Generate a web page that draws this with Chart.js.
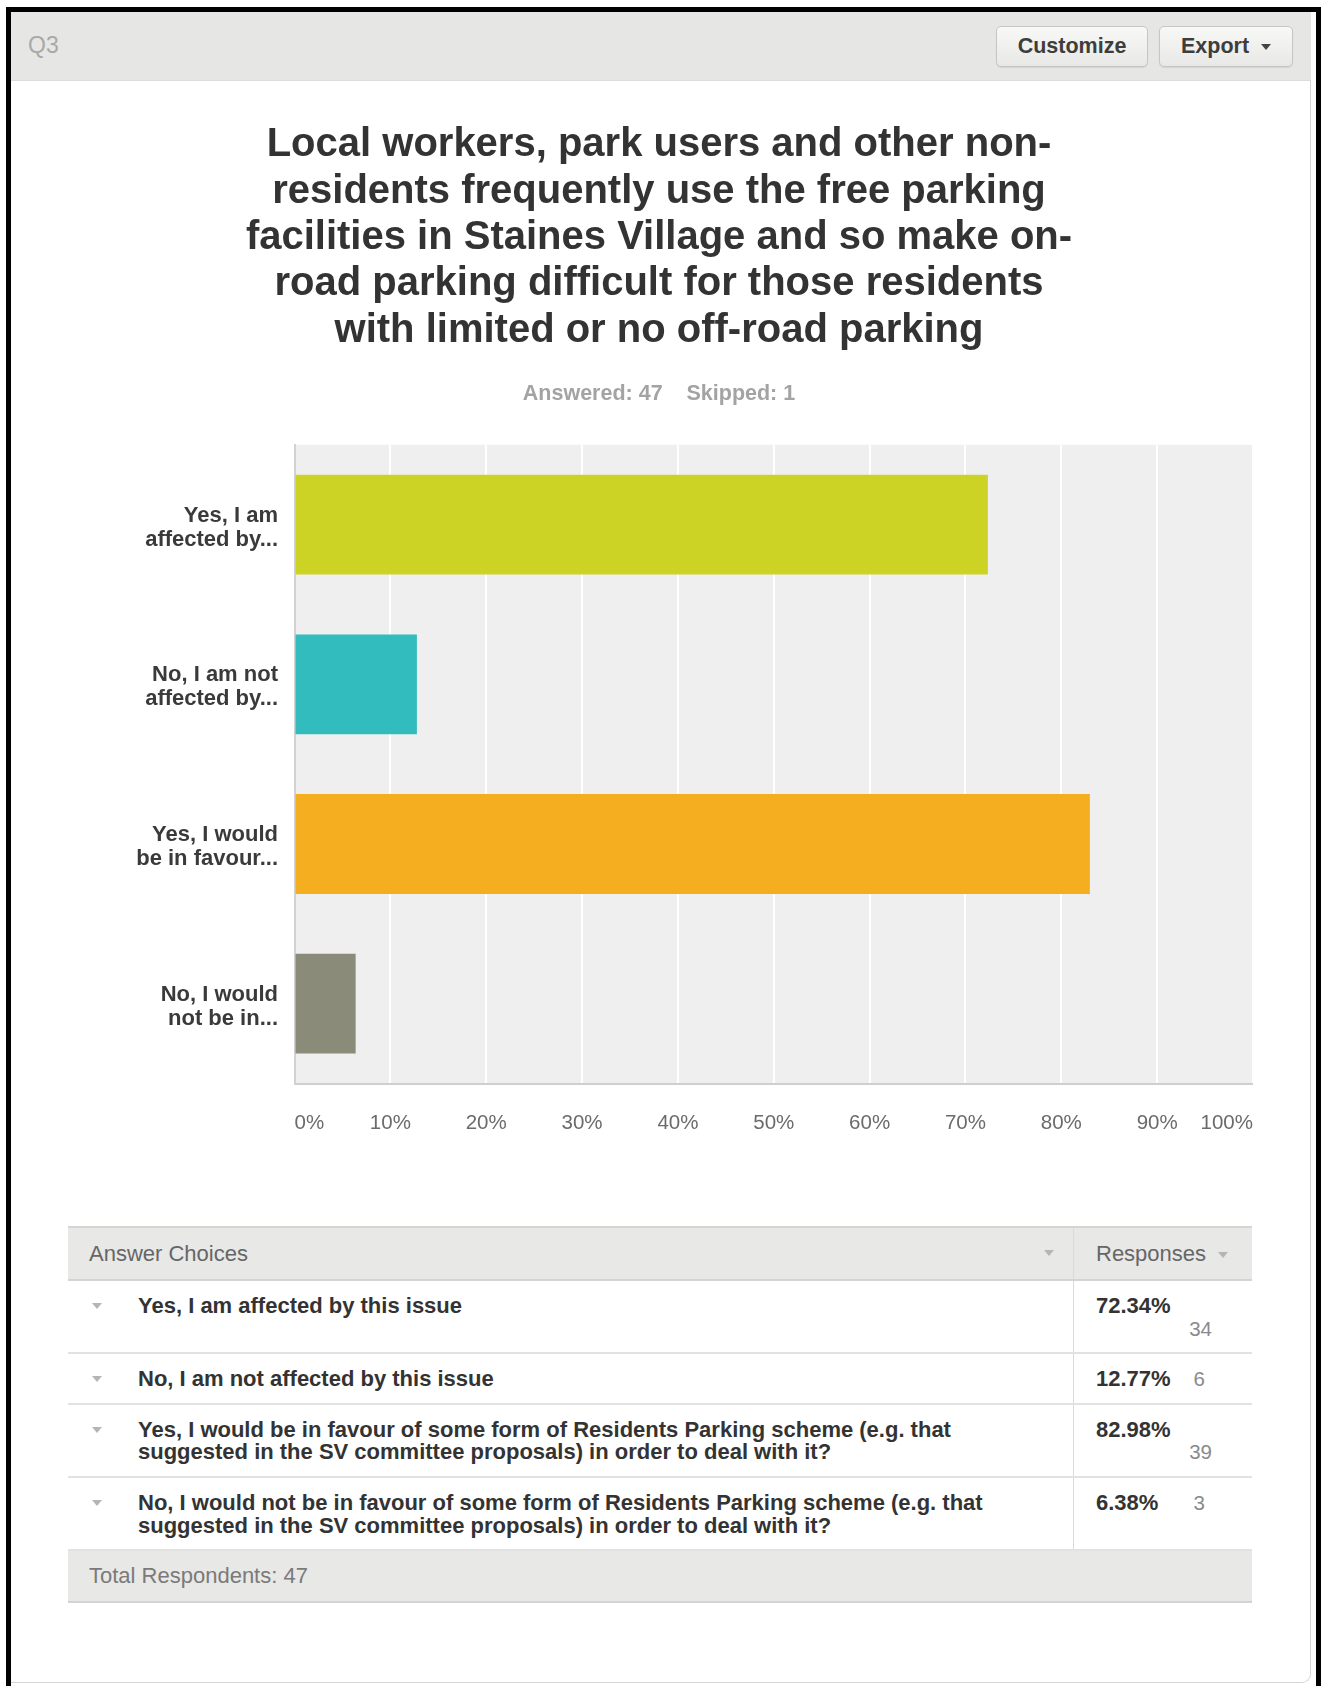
<!DOCTYPE html>
<html><head><meta charset="utf-8">
<script src="https://cdn.jsdelivr.net/npm/chart.js@4.4.1/dist/chart.umd.min.js"></script>
<style>
html,body{margin:0;padding:0;background:#fff;}
body{width:1321px;height:1686px;position:relative;overflow:hidden;font-family:"Liberation Sans",Arial,Helvetica,sans-serif;}
.abs{position:absolute;}
#frameL{left:6px;top:7px;width:5px;height:1679px;background:#000;}
#frameT{left:6px;top:7px;width:1315px;height:5px;background:#000;}
#frameR{left:1316px;top:7px;width:5px;height:1679px;background:#000;}
#card{left:11px;top:12px;width:1299px;height:1670px;border-right:1px solid #d6d6d6;border-bottom:1px solid #d6d6d6;border-bottom-right-radius:9px;background:#fff;}
#hdr{left:11px;top:12px;width:1300px;height:68px;background:#e6e6e4;border-bottom:1px solid #dcdcda;}
#q3{left:28px;top:32px;font-size:23px;color:#a9a9a9;line-height:26px;}
.btn{top:26px;height:39px;border:1px solid #c6c6c4;border-radius:5px;background:linear-gradient(#f8f8f6,#e8e8e6);font-weight:bold;font-size:21.5px;color:#3d3d3d;line-height:39px;text-align:center;box-shadow:0 1px 1px rgba(0,0,0,0.08);}
.tri{display:inline-block;width:0;height:0;border-left:5px solid transparent;border-right:5px solid transparent;border-top:6px solid #b5b5b5;vertical-align:middle;}
#chartBox{left:65px;top:80px;width:1188px;height:1080px;}
#tbl{left:68px;top:1226px;width:1184px;}
.row{display:flex;border-bottom:2px solid #e2e2e0;}
.c1{width:1006px;box-sizing:border-box;position:relative;border-right:1px solid #dadad8;}
.c2{flex:1;box-sizing:border-box;}
.thead{background:#e8e8e6;border-top:2px solid #d4d4d2;border-bottom:2px solid #d4d4d2;height:51px;line-height:51px;font-size:22px;color:#666;}
.thead .c1{padding-left:21px;}
.thead .c2{padding-left:22px;}
.body .c1{padding:14px 50px 12px 70px;font-weight:bold;font-size:22px;line-height:22.6px;color:#333;}
.body .c2{padding:14px 40px 12px 22px;font-size:22px;line-height:22.6px;}
.pct{font-weight:bold;color:#333;}
.cnt{color:#8a8a8a;font-weight:normal;font-size:20.5px;}
.tfoot{background:#e8e8e6;height:50px;line-height:50px;padding-left:21px;border-bottom:2px solid #d4d4d2;font-size:22px;color:#7a7a7a;}
</style></head>
<body>
<div id="card" class="abs"></div>
<div id="hdr" class="abs"></div>
<div id="frameL" class="abs"></div>
<div id="frameT" class="abs"></div>
<div id="frameR" class="abs"></div>
<div id="q3" class="abs">Q3</div>
<div class="abs btn" style="left:996px;width:150px;">Customize</div>
<div class="abs btn" style="left:1159px;width:132px;">Export <span class="tri" style="border-top-color:#444;margin-left:6px;"></span></div>
<div id="chartBox" class="abs"><canvas id="c" width="1188" height="1080"></canvas></div>
<div id="tbl" class="abs"></div>
<script>
const titleLines = [
  "Local workers, park users and other non-",
  "residents frequently use the free parking",
  "facilities in Staines Village and so make on-",
  "road parking difficult for those residents",
  "with limited or no off-road parking"
];
const answeredText = "Answered: 47    Skipped: 1";
const categories = [
  ["Yes, I am", "affected by..."],
  ["No, I am not", "affected by..."],
  ["Yes, I would", "be in favour..."],
  ["No, I would", "not be in..."]
];
const answerChoices = [
  "Yes, I am affected by this issue",
  "No, I am not affected by this issue",
  "Yes, I would be in favour of some form of Residents Parking scheme (e.g. that suggested in the SV committee proposals) in order to deal with it?",
  "No, I would not be in favour of some form of Residents Parking scheme (e.g. that suggested in the SV committee proposals) in order to deal with it?"
];
const percentValues = [72.34, 12.77, 82.98, 6.38];
const percentLabels = ["72.34%", "12.77%", "82.98%", "6.38%"];
const responseCounts = [34, 6, 39, 3];
const totalRespondents = 47;
const barColors = ["#cdd325", "#33bcbd", "#f5ae1f", "#8b8b79"];
const xTickLabels = ["0%","10%","20%","30%","40%","50%","60%","70%","80%","90%","100%"];

const FONT = '"Liberation Sans", Arial, Helvetica, sans-serif';

const plotBg = {
  id: 'plotBg',
  beforeDraw(chart) {
    const a = chart.chartArea, ctx = chart.ctx;
    ctx.save();
    ctx.fillStyle = '#efefef';
    ctx.fillRect(a.left, a.top, a.right - a.left, a.bottom - a.top);
    ctx.restore();
  }
};

new Chart(document.getElementById('c'), {
  type: 'bar',
  data: {
    labels: categories,
    datasets: [{
      data: percentValues,
      backgroundColor: barColors,
      borderWidth: 0,
      barPercentage: 0.625,
      categoryPercentage: 1
    }]
  },
  options: {
    indexAxis: 'y',
    responsive: false,
    animation: false,
    devicePixelRatio: 1,
    layout: { padding: 0 },
    plugins: {
      legend: { display: false },
      tooltip: { enabled: false },
      title: {
        display: true, text: titleLines, color: '#333',
        font: { family: FONT, size: 40, weight: 'bold', lineHeight: 1.16 },
        padding: { top: 42, bottom: 13 }
      },
      subtitle: {
        display: true, text: answeredText, color: '#a3a3a3',
        font: { family: FONT, size: 21.5, weight: 'bold', lineHeight: 1.2 },
        padding: { top: 14, bottom: 38 }
      }
    },
    scales: {
      x: {
        min: 0, max: 100,
        ticks: {
          stepSize: 10,
          callback: (v, i) => xTickLabels[i],
          align: 'inner',
          padding: 27.5,
          color: '#6b6b6b',
          font: { family: FONT, size: 20.5 }
        },
        grid: {
          color: c => (c.tick && c.tick.value === 0) ? 'rgba(0,0,0,0)' : '#ffffff',
          lineWidth: 2,
          drawTicks: false
        },
        border: { color: '#cfcfcf', width: 2 },
        afterFit: s => { s.height = 76.5; s.paddingLeft = 0; s.paddingRight = 0; }
      },
      y: {
        ticks: {
          color: '#3a3a3a',
          font: { family: FONT, size: 22, weight: 'bold', lineHeight: 1.08 },
          padding: 16.5,
          labelOffset: 3
        },
        grid: { display: false, drawTicks: false },
        border: { color: '#d2d2d2', width: 2 },
        afterFit: s => { s.width = 229.5; s.paddingTop = 0; s.paddingBottom = 0; }
      }
    }
  },
  plugins: [plotBg]
});

// table
const tbl = document.getElementById('tbl');
let html = '<div class="row thead"><div class="c1">Answer Choices<span class="tri" style="position:absolute;left:976px;top:22px;"></span></div>' +
           '<div class="c2">Responses <span class="tri" style="margin-left:6px;"></span></div></div>';
answerChoices.forEach((t, i) => {
  const cnt = responseCounts[i];
  const two = String(cnt).length > 1;
  const cntHtml = two
    ? '<div class="cnt" style="text-align:right;">' + cnt + '</div>'
    : '<span class="cnt" style="float:right;margin-right:7px;">' + cnt + '</span>';
  html += '<div class="row body"><div class="c1"><span class="tri" style="position:absolute;left:24px;top:22px;"></span>' + t + '</div>' +
          '<div class="c2"><div class="pct">' + percentLabels[i] + (two ? '' : cntHtml) + '</div>' + (two ? cntHtml : '') + '</div></div>';
});
html += '<div class="tfoot">Total Respondents: ' + totalRespondents + '</div>';
tbl.innerHTML = html;
</script>
</body></html>
